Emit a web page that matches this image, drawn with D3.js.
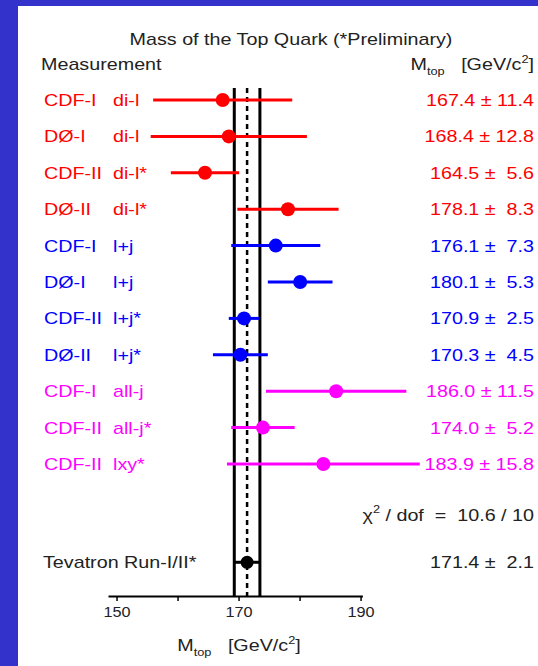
<!DOCTYPE html>
<html>
<head>
<meta charset="utf-8">
<script src="https://cdn.jsdelivr.net/npm/d3@7"></script>
<style>
  body { margin: 0; background: #3333cc; }
  text { font-family: "Liberation Sans", Arial, sans-serif; }
</style>
</head>
<body>
<svg id="chart"></svg>
<script>
// measurements, top to bottom
const experiments = ['CDF-I', 'DØ-I', 'CDF-II', 'DØ-II', 'CDF-I', 'DØ-I', 'CDF-II', 'DØ-II', 'CDF-I', 'CDF-II', 'CDF-II']
const channels = ['di-l', 'di-l', 'di-l*', 'di-l*', 'l+j', 'l+j', 'l+j*', 'l+j*', 'all-j', 'all-j*', 'lxy*']
const groups = ['dil', 'dil', 'dil', 'dil', 'lj', 'lj', 'lj', 'lj', 'allj', 'allj', 'allj']
const mass = [167.4, 168.4, 164.5, 178.1, 176.1, 180.1, 170.9, 170.3, 186.0, 174.0, 183.9]
const err = [11.4, 12.8, 5.6, 8.3, 7.3, 5.3, 2.5, 4.5, 11.5, 5.2, 15.8]
// combined result
const comboLabel = 'Tevatron Run-I/II*'
const comboMass = 171.4
const comboErr = 2.1
const chi2 = '10.6 / 10'
const xTicks = [150, 160, 170, 180, 190]
const xTickLabels = [150, 170, 190]

const W = 538, H = 666
const sx = 1.16  // the original fonts are drawn a bit wide
const color = d3.scaleOrdinal(['dil', 'lj', 'allj'], ['#ff0000', '#0000ff', '#ff00ff'])

const x = d3.scaleLinear([148.6, 190.3], [108, 362.4])
const y = d3.scaleLinear([0, 10], [100, 464])
const axisY = 596
const bandTop = 88

const svg = d3.select('#chart')
              .attr('width', W)
              .attr('height', H)

svg.append('rect')
   .attr('x', 18).attr('y', 6)
   .attr('width', W - 18).attr('height', H - 6)
   .attr('fill', 'white')

function label(x0, y0, txt, anchor, size, fill) {
    return svg.append('text')
              .attr('transform', `translate(${x0},${y0}) scale(${sx},1)`)
              .attr('text-anchor', anchor || 'start')
              .attr('font-size', size || 17)
              .attr('fill', fill || '#222')
              .text(txt)
}

// an extra space before single digit errors, like the original
function fmt(m, e) {
    const es = e.toFixed(1)
    return `${m.toFixed(1)} ±\u00a0${es.length < 4 ? '\u00a0' : ''}${es}`
}

// M_top [GeV/c^2]
function mtop(x0, y0, anchor) {
    const t = label(x0, y0, '', anchor)
    t.append('tspan').text('M')
    t.append('tspan').attr('font-size', 11).attr('dy', 5).text('top')
    t.append('tspan').attr('dy', -5).text('\u00a0\u00a0 [GeV/c')
    t.append('tspan').attr('font-size', 11).attr('dy', -7).text('2')
    t.append('tspan').attr('dy', 7).text(']')
}

label(291, 45, 'Mass of the Top Quark (*Preliminary)', 'middle')
label(41, 70, 'Measurement')
mtop(534, 70, 'end')

const I = d3.range(mass.length)

// band of the combined result
svg.append('g')
   .selectAll('line')
   .data([comboMass - comboErr, comboMass + comboErr])
   .join('line')
     .attr('x1', d => x(d)).attr('x2', d => x(d))
     .attr('y1', bandTop).attr('y2', axisY)
     .attr('stroke', 'black')
     .attr('stroke-width', 3)
svg.append('line')
   .attr('x1', x(comboMass)).attr('x2', x(comboMass))
   .attr('y1', bandTop).attr('y2', axisY)
   .attr('stroke', 'black')
   .attr('stroke-width', 2.5)
   .attr('stroke-dasharray', '5,4')

// row labels
I.forEach(i => {
    label(44, y(i) + 6, experiments[i], 'start', 17, color(groups[i]))
    label(113, y(i) + 6, channels[i], 'start', 17, color(groups[i]))
    label(534, y(i) + 6, fmt(mass[i], err[i]), 'end', 17, color(groups[i]))
})

// error bars and points
svg.append('g')
   .selectAll('line')
   .data(I)
   .join('line')
     .attr('x1', i => x(mass[i] - err[i]))
     .attr('x2', i => x(mass[i] + err[i]))
     .attr('y1', i => y(i)).attr('y2', i => y(i))
     .attr('stroke', i => color(groups[i]))
     .attr('stroke-width', 3)
svg.append('g')
   .selectAll('circle')
   .data(I)
   .join('circle')
     .attr('cx', i => x(mass[i]))
     .attr('cy', i => y(i))
     .attr('r', 7)
     .attr('fill', i => color(groups[i]))

// chi2 line
const c = label(534, y(11.4) + 6, '', 'end')
c.append('tspan').text('χ')
c.append('tspan').attr('font-size', 11).attr('dy', -8).text('2')
c.append('tspan').attr('dy', 8).text(`\u00a0/ dof\u00a0 =\u00a0 ${chi2}`)

// combined
const cy = y(12.7)
label(43, cy + 6, comboLabel)
label(534, cy + 6, fmt(comboMass, comboErr), 'end')
svg.append('line')
   .attr('x1', x(comboMass - comboErr)).attr('x2', x(comboMass + comboErr))
   .attr('y1', cy).attr('y2', cy)
   .attr('stroke', 'black')
   .attr('stroke-width', 3)
svg.append('circle')
   .attr('cx', x(comboMass)).attr('cy', cy)
   .attr('r', 6.5)
   .attr('fill', 'black')

// x axis
const xAxis = d3.axisBottom(x)
                .tickValues(xTicks)
                .tickSize(5)
                .tickSizeOuter(0)
                .tickFormat(d => xTickLabels.includes(d) ? d : '')
const ax = svg.append('g')
              .attr('transform', `translate(0,${axisY})`)
              .call(xAxis)
ax.select('.domain').attr('stroke', 'black').attr('stroke-width', 2)
ax.selectAll('.tick line').attr('stroke', 'black').attr('stroke-width', 1.5)
ax.selectAll('.tick text')
  .attr('y', 11)
  .attr('dy', '0.71em')
  .attr('font-size', 14)
  .attr('fill', '#222')
  .attr('font-family', '"Liberation Sans", Arial, sans-serif')
  .attr('transform', `scale(${sx},1)`)
  .attr('x', 0)

// axis title
mtop(239, 651, 'middle')
</script>
</body>
</html>
